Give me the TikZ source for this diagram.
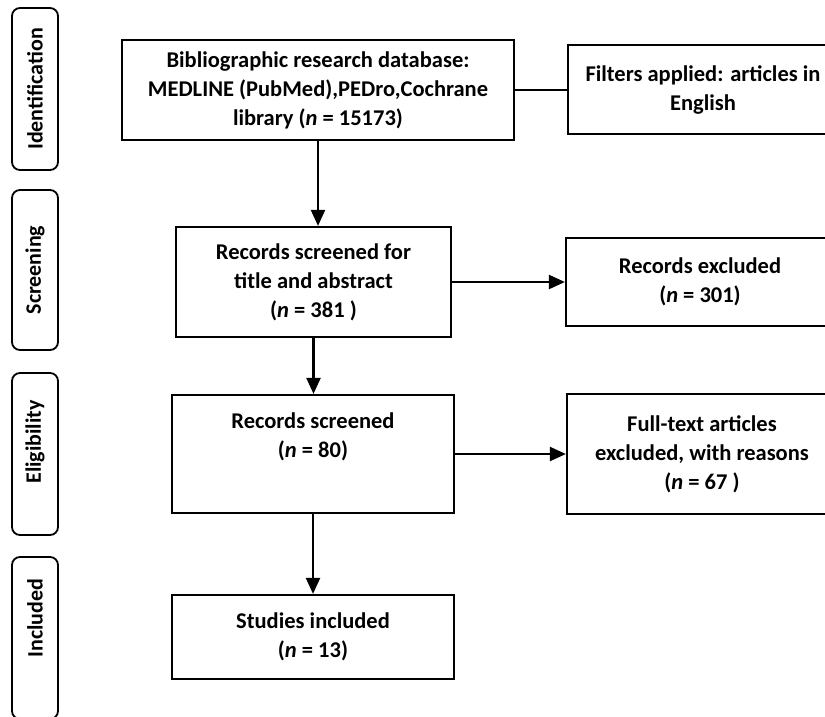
\documentclass[tikz,border=0pt]{standalone}
\usepackage{fontspec}
\setmainfont{Carlito}
\usetikzlibrary{arrows.meta}

\begin{document}
\begin{tikzpicture}[x=1pt,y=-1pt,
  anaKutu/.style={draw,line width=2.2pt,align=center,inner sep=0pt,
    font=\bfseries\fontsize{22.5}{29}\selectfont},
  evreKutu/.style={draw,line width=1.8pt,rounded corners=8pt,rotate=90,
    minimum height=46pt,inner sep=0pt,font=\bfseries\fontsize{22}{26}\selectfont},
  okUcu/.style={-{Triangle[length=16pt,width=14pt]},line width=2.2pt}]
\useasboundingbox (0,0) rectangle (825,716);
% 1) evreler (sol sutun)
\node[evreKutu,minimum width=162pt] (evreTanim) at (35,89) {Identification};
\node[evreKutu,minimum width=160pt] (evreTarama) at (35,270) {Screening};
\node[evreKutu,minimum width=162pt] (evreUygun) at (35,454) {\hspace*{24pt}Eligibility};
\node[evreKutu,minimum width=162pt] (evreDahil) at (35,638) {\hspace*{40pt}Included};
% 2) ana akis
\node[anaKutu,minimum width=392pt,minimum height=100pt] (veritabani) at (318,90)
  {Bibliographic research database:\\MEDLINE (PubMed),PEDro,Cochrane\\library (\textit{n} = 15173)};
\node[anaKutu,minimum width=275pt,minimum height=110pt] (tarama) at (313.5,282)
  {Records screened for\\title and abstract\\(\textit{n} = 381 )};
\node[anaKutu,minimum width=282pt,minimum height=118pt] (secilen) at (313,454)
  {Records screened\\(\textit{n} = 80)\\ \strut};
\node[anaKutu,minimum width=282pt,minimum height=84pt] (dahil) at (313,637)
  {Studies included\\(\textit{n} = 13)};
% 3) sag sutun
\node[anaKutu,minimum width=270pt,minimum height=89pt] (filtre) at (703,89.5)
  {Filters applied: articles in\\English};
\node[anaKutu,minimum width=268pt,minimum height=88pt] (dislanan) at (700,282)
  {Records excluded\\(\textit{n} = 301)};
\node[anaKutu,minimum width=270pt,minimum height=120pt] (tamMetin) at (702,454)
  {Full-text articles\\excluded, with reasons\\(\textit{n} = 67 )};
% 4) baglantilar
\draw[line width=2.2pt] (veritabani.east) -- (veritabani.east -| filtre.west);
\draw[okUcu] (veritabani.south) -- (veritabani.south |- tarama.north);
\draw[okUcu] (tarama.east) -- (dislanan.west);
\draw[okUcu] (tarama.south) -- (tarama.south |- secilen.north);
\draw[okUcu] (secilen.east) -- (tamMetin.west);
\draw[okUcu] (secilen.south) -- (dahil.north);
\end{tikzpicture}
\end{document}
